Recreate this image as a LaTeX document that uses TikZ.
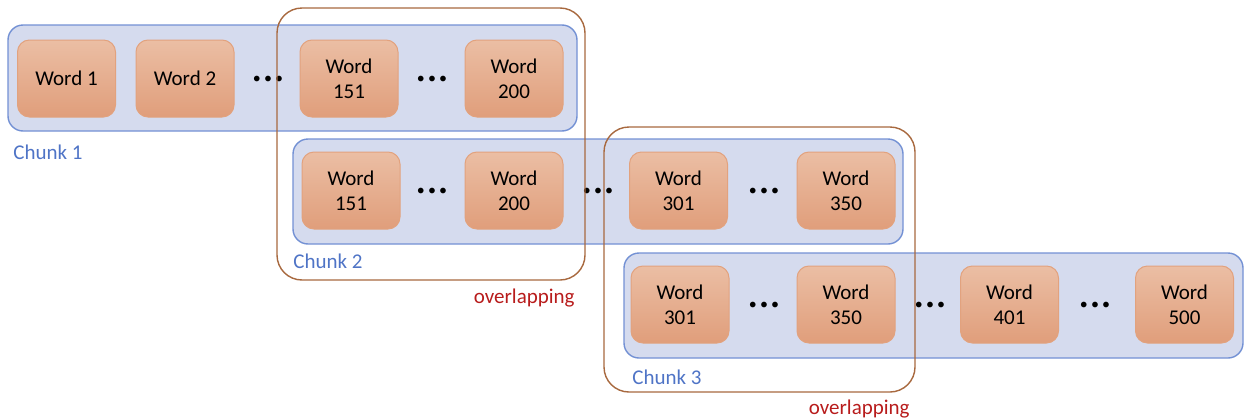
\documentclass[tikz,border=0pt]{standalone}
\usepackage{fontspec}
\setmainfont{Carlito}
\definecolor{chunkfill}{HTML}{D5DBEE}
\definecolor{chunkline}{HTML}{7391D4}
\definecolor{chunktext}{HTML}{4F74C6}
\definecolor{wordtop}{HTML}{EBBEA4}
\definecolor{wordbot}{HTML}{E09E7B}
\definecolor{wordline}{HTML}{E2A27E}
\definecolor{overline}{HTML}{A8693F}
\definecolor{overtext}{HTML}{B81C1C}
\newcommand{\wdots}{{\fontsize{8}{8}\selectfont •\hspace{1.6pt}•\hspace{1.6pt}•}}
\tikzset{
    chunk/.style={draw=chunkline, fill=chunkfill, line width=0.7pt, rounded corners=7.5pt},
    word/.style={draw=wordline, top color=wordtop, bottom color=wordbot, line width=0.5pt,
        rounded corners=6pt, minimum width=49pt, minimum height=38.5pt, inner sep=0pt, align=center},
    dots/.style={inner sep=0pt},
    overlap/.style={draw=overline, line width=0.7pt, rounded corners=12.5pt},
    chunklabel/.style={text=chunktext, inner sep=0pt, anchor=base west},
    overlabel/.style={text=overtext, inner sep=0pt, anchor=base east}
}
\begin{document}
\begin{tikzpicture}[x=0.5pt, y=-0.5pt, font=\fontsize{10.5}{12.5}\selectfont]
    \useasboundingbox (0,0) rectangle (1244,418);
    \node[chunk, minimum width=284.5pt, minimum height=53pt] (chunk1) at (292.5,78) {};
    \node[chunk, minimum width=305pt, minimum height=52.5pt] (chunk2) at (598,191.5) {};
    \node[chunk, minimum width=309.5pt, minimum height=52.5pt] (chunk3) at (933.5,305.5) {};
    \foreach \x/\y/\id/\txt in {
        66.5/78.5/w1/Word 1, 185/78.5/w2/Word 2, 349/78.5/w151a/Word\\151, 514/78.5/w200a/Word\\200,
        351/190.5/w151b/Word\\151, 514/190.5/w200b/Word\\200, 678.5/190.5/w301a/Word\\301, 846/190.5/w350a/Word\\350,
        680/304.5/w301b/Word\\301, 846/304.5/w350b/Word\\350, 1009.5/304.5/w401/Word\\401, 1184.5/304.5/w500/Word\\500%
    } {
        \node[word] (\id) at (\x,\y) {\txt};
    }
    \foreach \x/\y/\id in {
        268/80/d1, 432/80/d2,
        432/192/d3, 598/192/d4, 764/192/d5,
        764/306/d6, 930/306/d7, 1095/306/d8%
    } {
        \node[dots] (\id) at (\x,\y) {\wdots};
    }
    \node[chunklabel] (lab1) at (13,159) {Chunk 1};
    \node[chunklabel] (lab2) at (293,268) {Chunk 2};
    \node[chunklabel] (lab3) at (632,384) {Chunk 3};
    \node[overlap, minimum width=154pt, minimum height=136pt] (over1) at (431,144) {};
    \node[overlap, minimum width=155.5pt, minimum height=132.5pt] (over2) at (759.5,259.5) {};
    \node[overlabel] (olab1) at (575,303) {overlapping};
    \node[overlabel] (olab2) at (910,414) {overlapping};
\end{tikzpicture}
\end{document}
